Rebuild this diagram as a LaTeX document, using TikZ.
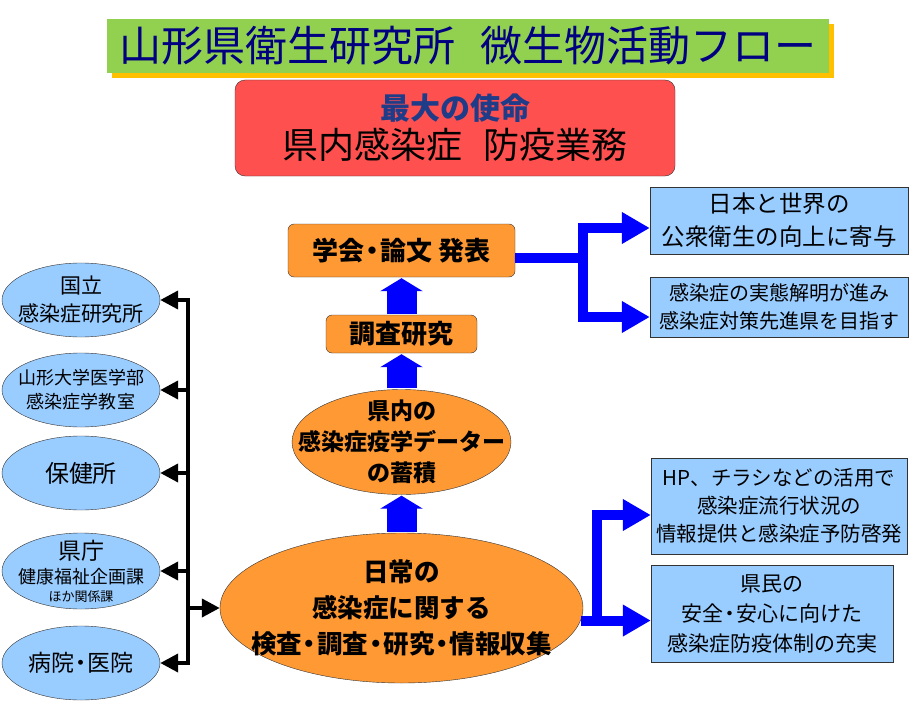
\documentclass[tikz,border=0pt]{standalone}
\usepackage{fontspec}
\setmainfont{Noto Sans CJK JP}
\usetikzlibrary{shapes,shadows,arrows.meta}

\definecolor{midori}{HTML}{92D050}
\definecolor{kiiro}{HTML}{FFC000}
\definecolor{aka}{HTML}{FF5050}
\definecolor{daidai}{HTML}{FF9933}
\definecolor{mizu}{HTML}{99CCFF}
\definecolor{kon}{HTML}{000080}
\definecolor{kon2}{HTML}{1F3C88}
\definecolor{ao}{HTML}{0000FF}
\definecolor{waku}{HTML}{333333}

% narrow middle dot
\newcommand{\ten}{\kern-0.2em・\kern-0.2em}

\begin{document}
\begin{tikzpicture}[x=1pt, y=-1pt,
    daidaibox/.style={draw=waku, fill=daidai, rounded corners=6pt, inner sep=0pt,
        font=\bfseries\fontsize{26pt}{30pt}\selectfont},
    daidaioval/.style={draw=waku, fill=daidai, ellipse, inner sep=0pt},
    mizubox/.style={draw=waku, fill=mizu, inner sep=0pt, align=center},
    mizuoval/.style={draw=waku, fill=mizu, ellipse, inner sep=0pt,
        minimum width=158pt, minimum height=74pt},
    naka/.style={align=center, inner sep=0pt},
    kurosen/.style={line width=4pt, line cap=rect},
    kuroya/.style={line width=4pt, -{Triangle[length=18pt, width=18pt]}},
    aosen/.style={ao, line width=10pt},
    aoya/.style={ao, line width=10pt, -{Triangle[length=28pt, width=30pt]}},
    buroku/.style={ao, line width=30pt, -{Triangle[length=13pt, width=42pt]},
        shorten <=1pt, shorten >=1pt}]

    \useasboundingbox (0,0) rectangle (921,701);

    % Title
    \node[fill=midori, minimum width=722pt, minimum height=54pt, inner sep=0pt,
        drop shadow={shadow xshift=5pt, shadow yshift=-5pt, fill=kiiro, opacity=1},
        text=kon, font=\fontsize{42pt}{50pt}\selectfont] (title) at (468,46)
        {山形県衛生研究所\hspace{0.6em}微生物活動フロー};

    % Mission
    \node[draw=waku, fill=aka, rounded corners=10pt, minimum width=440pt,
        minimum height=96pt, inner sep=0pt, align=center,
        font=\fontsize{36pt}{39pt}\selectfont] (shimei) at (455,128)
        {{\color{kon2}\bfseries\fontsize{30pt}{39pt}\selectfont 最大の使命}\\
         県内感染症\hspace{0.6em}防疫業務};

    % Central flow
    \node[daidaibox, minimum width=227pt, minimum height=53pt] (gakkai)
        at (401.5,250.5) {学会\ten 論文 発表};
    \node[daidaibox, minimum width=151pt, minimum height=38pt,
        node distance=83.5pt, below of=gakkai] (chosa) {調査研究};
    \node[daidaioval, minimum width=219pt, minimum height=105pt,
        node distance=108pt, below of=chosa,
        label={[naka, font=\bfseries\fontsize{23pt}{31pt}\selectfont]center:{県内の\\感染症疫学データー\\の蓄積}}] (data) {};
    \node[daidaioval, minimum width=363pt, minimum height=150pt,
        node distance=166pt, below of=data,
        label={[naka, font=\bfseries\fontsize{25.5pt}{36pt}\selectfont]center:{日常の\\感染症に関する\\検査\ten 調査\ten 研究\ten 情報収集}}] (nichijo) {};

    % Partners
    \node[mizuoval,
        label={[naka, font=\fontsize{21pt}{28pt}\selectfont]center:{国立\\感染症研究所}}] (kokuritsu) at (81,300) {};
    \node[mizuoval, node distance=90pt, below of=kokuritsu,
        label={[naka, font=\fontsize{18pt}{24pt}\selectfont]center:{山形大学医学部\\感染症学教室}}] (yamadai) {};
    \node[mizuoval, node distance=83pt, below of=yamadai,
        label={[naka, font=\fontsize{24pt}{28pt}\selectfont]center:保健所}] (hokenjo) {};
    \node[mizuoval, minimum height=76pt, node distance=98pt, below of=hokenjo,
        label={[naka, font=\fontsize{18pt}{22pt}\selectfont]center:{{\fontsize{23pt}{22pt}\selectfont 県庁}\\[2pt]健康福祉企画課\\[-4pt]{\fontsize{13pt}{15pt}\selectfont ほか関係課}}}] (kencho) {};
    \node[mizuoval, node distance=92pt, below of=kencho,
        label={[naka, font=\fontsize{23pt}{26pt}\selectfont]center:病院\ten 医院}] (byoin) {};

    % Results
    \node[mizubox, minimum width=258pt, minimum height=67pt,
        font=\fontsize{23.5pt}{33pt}\selectfont] (kiyo) at (779,220.5)
        {日本と世界の\\公衆衛生の向上に寄与};
    \node[mizubox, minimum width=258pt, minimum height=60pt,
        font=\fontsize{20pt}{28pt}\selectfont] (mezasu) at (779,307)
        {感染症の実態解明が進み\\感染症対策先進県を目指す};
    \node[mizubox, minimum width=256pt, minimum height=96pt,
        font=\fontsize{20.5pt}{28pt}\selectfont] (keihatsu) at (779,506)
        {HP、チラシなどの活用で\\感染症流行状況の\\情報提供と感染症予防啓発};
    \node[mizubox, minimum width=242pt, minimum height=97pt,
        font=\fontsize{21pt}{30pt}\selectfont] (jujitsu) at (772,613.5)
        {県民の\\安全\ten 安心に向けた\\感染症防疫体制の充実};

    % Black links
    \coordinate (sebone) at (188,0);
    \draw[kurosen] (sebone |- kokuritsu.east) -- (sebone |- byoin.east);
    \foreach \n in {kokuritsu,yamadai,hokenjo,kencho,byoin}
        \draw[kuroya] (sebone |- \n.east) -- (\n.east);
    \draw[kuroya] (sebone |- nichijo.west) -- (nichijo.west);

    % Blue block arrows
    \draw[buroku] (chosa.north) -- (gakkai.south);
    \draw[buroku] (data.north) -- (chosa.south);
    \draw[buroku] (nichijo.north) -- (data.south);

    % Blue forks
    \coordinate (eda) at (583,258);
    \draw[aosen] (gakkai.east |- eda) -- (eda);
    \draw[aoya] (eda) |- ([yshift=-7.5pt]kiyo.west);
    \draw[aoya] (eda) |- ([yshift=-10pt]mezasu.west);
    \coordinate (eda2) at (597,0);
    \draw[aoya] (nichijo.-4) -- (nichijo.-4 -| jujitsu.west);
    \draw[aoya] (nichijo.-4 -| eda2) |- ([yshift=-9pt]keihatsu.west);
\end{tikzpicture}
\end{document}
